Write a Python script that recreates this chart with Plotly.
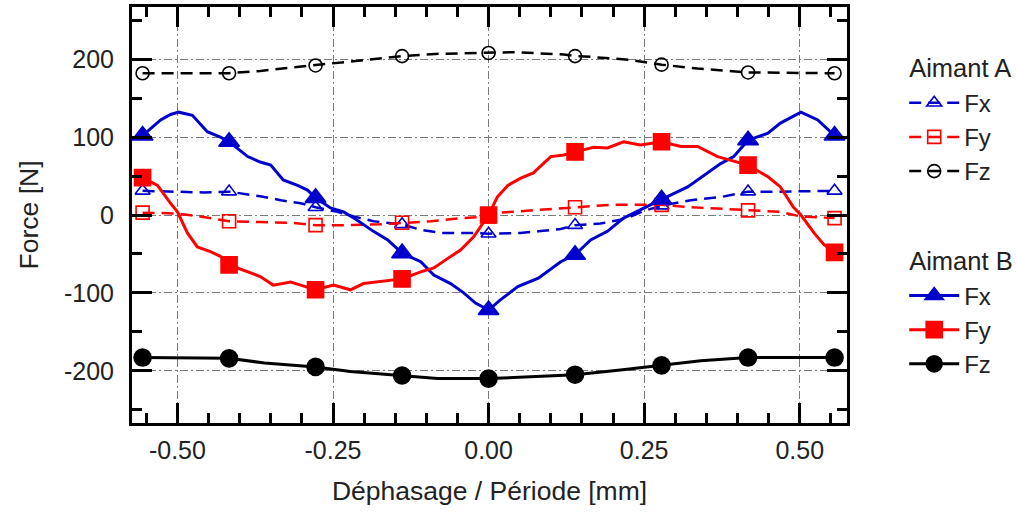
import plotly.graph_objects as go

# Marker positions (phase / period)
MARK_X = [-0.556, -0.417, -0.278, -0.139, 0.0, 0.139, 0.278, 0.417, 0.556]

# ---- Aimant A (dashed, open markers) ----
a_fx_x = [-0.556, -0.511, -0.458, -0.417, -0.367, -0.334, -0.302, -0.278, -0.243, -0.206,
          -0.185, -0.139, -0.109, -0.077, -0.029, 0.0, 0.051, 0.080, 0.116, 0.139,
          0.180, 0.212, 0.228, 0.249, 0.278, 0.325, 0.373, 0.417, 0.469, 0.556]
a_fx_y = [31, 30, 29, 30, 24, 19, 15, 10, 4, -4,
          -8, -12, -19, -23, -23, -24, -23, -21, -18, -13,
          -11, -6, -2, 5, 12, 19, 23, 30, 30, 31]

a_fy_x = [-0.556, -0.503, -0.463, -0.417, -0.367, -0.318, -0.278, -0.222, -0.174, -0.139,
          -0.093, -0.045, 0.0, 0.019, 0.056, 0.095, 0.139, 0.196, 0.244, 0.278,
          0.325, 0.373, 0.417, 0.469, 0.502, 0.556]
a_fy_y = [3, 2, -2, -8, -9, -10, -13, -13, -12, -10,
          -8, -4, -2, 3, 5, 8, 10, 13, 13, 13,
          10, 8, 6, 4, -2, -4]

a_fz_x = [-0.556, -0.463, -0.417, -0.367, -0.318, -0.278, -0.240, -0.182, -0.139, -0.077,
          0.0, 0.040, 0.121, 0.139, 0.164, 0.228, 0.278, 0.336, 0.417, 0.556]
a_fz_y = [182, 182, 182, 185, 189, 192, 196, 200, 204, 207,
          208, 209, 206, 204, 203, 199, 193, 188, 183, 182]

# ---- Aimant B (solid, filled markers) ----
b_fx_x = [-0.556, -0.540, -0.527, -0.511, -0.498, -0.476, -0.452, -0.431, -0.417, -0.387,
          -0.367, -0.350, -0.330, -0.307, -0.291, -0.278, -0.254, -0.233, -0.214, -0.185,
          -0.162, -0.139, -0.109, -0.088, -0.061, -0.040, -0.021, 0.0, 0.019, 0.047,
          0.080, 0.116, 0.139, 0.164, 0.191, 0.217, 0.249, 0.278, 0.320, 0.352,
          0.373, 0.394, 0.417, 0.449, 0.469, 0.502, 0.529, 0.556]
b_fx_y = [102, 113, 122, 129, 132, 128, 107, 100, 94, 75,
          68, 64, 45, 38, 32, 22, 9, 4, -5, -21,
          -32, -49, -60, -77, -88, -100, -113, -122, -109, -92,
          -81, -60, -51, -32, -21, -4, 9, 20, 36, 54,
          66, 75, 96, 105, 118, 132, 122, 102]

b_fy_x = [-0.556, -0.532, -0.511, -0.500, -0.484, -0.468, -0.447, -0.431, -0.417, -0.387,
          -0.367, -0.346, -0.318, -0.302, -0.278, -0.249, -0.222, -0.201, -0.178, -0.139,
          -0.109, -0.088, -0.066, -0.045, -0.024, 0.0, 0.014, 0.031, 0.051, 0.072,
          0.100, 0.121, 0.139, 0.169, 0.191, 0.217, 0.244, 0.278, 0.309, 0.336,
          0.368, 0.389, 0.417, 0.449, 0.469, 0.490, 0.502, 0.523, 0.539, 0.556]
b_fy_y = [48, 38, 15, 4, -23, -41, -47, -53, -64, -73,
          -79, -90, -86, -90, -96, -90, -96, -88, -86, -82,
          -73, -68, -56, -45, -28, 0, 23, 38, 47, 54,
          75, 77, 81, 87, 86, 94, 90, 94, 88, 88,
          75, 70, 64, 49, 36, 10, 0, -23, -38, -48]

b_fz_x = [-0.556, -0.417, -0.360, -0.278, -0.222, -0.139, -0.082, 0.0, 0.068, 0.139,
          0.212, 0.278, 0.341, 0.417, 0.556]
b_fz_y = [-183, -184, -190, -195, -201, -206, -210, -210, -208, -205,
          -199, -193, -187, -183, -183]

X_TICKS = [-0.50, -0.25, 0.00, 0.25, 0.50]
X_TICK_TEXT = ["-0.50", "-0.25", "0.00", "0.25", "0.50"]
Y_TICKS = [-200, -100, 0, 100, 200]
Y_TICK_TEXT = ["-200", "-100", "0", "100", "200"]

BLUE = "#0000cc"
RED = "#ff0000"
BLACK = "#000000"
FONT = "Liberation Sans, Arial, sans-serif"
TXT = "#222222"

series = [
    ("A", "Aimant A", "Fx", a_fx_x, a_fx_y, BLUE, "12px,7px", 2.5, "triangle-up-open", 13),
    ("A", "Aimant A", "Fy", a_fy_x, a_fy_y, RED, "12px,7px", 2.5, "square-open", 13),
    ("A", "Aimant A", "Fz", a_fz_x, a_fz_y, BLACK, "12px,7px", 2.5, "circle-open", 13),
    ("B", "Aimant B", "Fx", b_fx_x, b_fx_y, BLUE, "solid", 3, "triangle-up", 18),
    ("B", "Aimant B", "Fy", b_fy_x, b_fy_y, RED, "solid", 3, "square", 16),
    ("B", "Aimant B", "Fz", b_fz_x, b_fz_y, BLACK, "solid", 3, "circle", 17),
]

fig = go.Figure()
for grp, gtitle, name, xs, ys, col, dash, lw, sym, ms in series:
    fig.add_trace(go.Scatter(
        x=xs, y=ys, mode="lines", line=dict(color=col, width=lw, dash=dash),
        showlegend=False, legendgroup=grp, hoverinfo="skip"))
    mx = [x for x in xs if any(abs(x - m) < 1e-9 for m in MARK_X)]
    my = [y for x, y in zip(xs, ys) if any(abs(x - m) < 1e-9 for m in MARK_X)]
    fig.add_trace(go.Scatter(
        x=mx, y=my, mode="markers",
        marker=dict(symbol=sym, size=ms, color=col, line=dict(color=col, width=1.6)),
        showlegend=False, legendgroup=grp))
    fig.add_trace(go.Scatter(
        x=[None], y=[None], mode="lines+markers", name=name, legendgroup=grp,
        legendgrouptitle=dict(text=gtitle, font=dict(size=25.5, color=TXT, family=FONT)),
        line=dict(color=col, width=lw, dash=dash),
        marker=dict(symbol=sym, size=min(ms, 16), color=col, line=dict(color=col, width=1.6))))

axis_common = dict(
    showline=True, linecolor="black", linewidth=3, mirror="ticks",
    ticks="inside", ticklen=20, tickwidth=2.5, tickcolor="black",
    showgrid=True, gridcolor="#7a7a7a", gridwidth=1, griddash="8px,3px,2px,3px",
    zeroline=False, automargin=False,
    tickfont=dict(size=25, color=TXT, family=FONT),
)

fig.update_xaxes(
    **axis_common, range=[-0.573, 0.576],
    tickvals=X_TICKS, ticktext=X_TICK_TEXT, ticklabelstandoff=3,
    minor=dict(dtick=0.05, tick0=0, ticks="inside", ticklen=10, tickwidth=2.5,
               tickcolor="black", showgrid=False),
    title=dict(text="Déphasage / Période [mm]", font=dict(size=26.5, color=TXT, family=FONT),
               standoff=19),
)
fig.update_yaxes(
    **axis_common, range=[-267, 267],
    tickvals=Y_TICKS, ticktext=Y_TICK_TEXT, ticklabelstandoff=10,
    minor=dict(dtick=50, tick0=0, ticks="inside", ticklen=10, tickwidth=2.5,
               tickcolor="black", showgrid=False),
    title=dict(text="Force [N]", font=dict(size=26.5, color=TXT, family=FONT), standoff=18),
)

fig.update_layout(
    width=1016, height=514,
    margin=dict(l=132, r=169, t=7, b=91, autoexpand=False),
    paper_bgcolor="white", plot_bgcolor="white",
    font=dict(family=FONT, size=25, color=TXT),
    legend=dict(x=1.08, y=0.91, xanchor="left", yanchor="top",
                font=dict(size=24, color=TXT, family=FONT),
                traceorder="grouped", tracegroupgap=54, itemwidth=50,
                bgcolor="rgba(0,0,0,0)"),
)

fig.write_html("out.html", config={"displayModeBar": False},
               post_script="document.body.style.margin='0';document.body.style.padding='0';")
